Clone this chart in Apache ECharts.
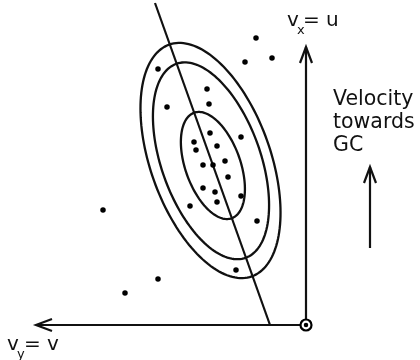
<!DOCTYPE html>
<html>
<head>
<meta charset="utf-8">
<script src="https://cdn.jsdelivr.net/npm/echarts@6/dist/echarts.min.js"></script>
<style>
  html, body { margin: 0; padding: 0; background: #fff; }
  #chart { width: 420px; height: 360px; }
</style>
</head>
<body>
<div id="chart"></div>
<script>
// Velocity-space sample: v (leftwards) and u (towards GC, upwards)
const starV = [50, 61, 34, 148, 99, 97, 139, 96, 65, 112, 89, 110, 81, 103, 93, 78, 103, 91, 65, 89, 116, 49, 203, 70, 148, 181];
const starU = [287, 263, 267, 256, 236, 221, 218, 192, 188, 183, 179, 175, 164, 160, 160, 148, 137, 133, 129, 123, 119, 104, 115, 55, 46, 32];

// Velocity ellipsoid contours: centre, semi-axes, tilt of the major axis (deg from u)
const ellipseCenterV = [95.5, 95, 93.1];
const ellipseCenterU = [164.5, 164.2, 159.5];
const ellipseMajor = [123, 103, 56];
const ellipseMinor = [60, 49.5, 27.5];
const vertexTilt = 19.65;

// Major-axis line (vertex deviation)
const vertexLineV = [36, 151];
const vertexLineU = [0, 322];

// Arrows: [fromV, fromU, toV, toU]
const arrowFromV = [0, 0, -64];
const arrowFromU = [0, 0, 77];
const arrowToV = [270, 0, -64];
const arrowToU = [0, 278, 158];

const INK = '#111';

const chart = echarts.init(document.getElementById('chart'), null, { renderer: 'canvas' });

const ellipseData = ellipseCenterV.map((v, i) => [v, ellipseCenterU[i], ellipseMajor[i], ellipseMinor[i]]);
const arrowData = arrowFromV.map((v, i) => [v, arrowFromU[i], arrowToV[i], arrowToU[i]]);

function renderEllipse(params, api) {
  const cv = api.value(0), cu = api.value(1), a = api.value(2), b = api.value(3);
  const th = vertexTilt * Math.PI / 180;
  const pts = [];
  const n = 160;
  for (let k = 0; k < n; k++) {
    const t = 2 * Math.PI * k / n;
    const v = cv + a * Math.cos(t) * Math.sin(th) - b * Math.sin(t) * Math.cos(th);
    const u = cu + a * Math.cos(t) * Math.cos(th) + b * Math.sin(t) * Math.sin(th);
    pts.push(api.coord([v, u]));
  }
  return {
    type: 'polygon',
    shape: { points: pts },
    style: { fill: 'none', stroke: INK, lineWidth: 2.3 }
  };
}

function renderArrow(params, api) {
  const p0 = api.coord([api.value(0), api.value(1)]);
  const p1 = api.coord([api.value(2), api.value(3)]);
  const dx = p1[0] - p0[0], dy = p1[1] - p0[1];
  const len = Math.sqrt(dx * dx + dy * dy);
  const ux = dx / len, uy = dy / len;
  const headLen = 16, headHalf = 6;
  const bx = p1[0] - ux * headLen, by = p1[1] - uy * headLen;
  const left = [bx - uy * headHalf, by + ux * headHalf];
  const right = [bx + uy * headHalf, by - ux * headHalf];
  return {
    type: 'group',
    children: [
      { type: 'line', shape: { x1: p0[0], y1: p0[1], x2: p1[0], y2: p1[1] },
        style: { stroke: INK, lineWidth: 2.2 } },
      { type: 'polyline', shape: { points: [left, p1, right] },
        style: { stroke: INK, lineWidth: 2.2, fill: 'none' } }
    ]
  };
}

const textStyle = { fill: '#111', fontFamily: 'DejaVu Sans' };

chart.setOption({
  animation: false,
  grid: { left: 0, top: 0, right: 0, bottom: 0 },
  xAxis: { type: 'value', inverse: true, min: -114, max: 306, show: false },
  yAxis: { type: 'value', min: -35, max: 325, show: false },
  series: [
    {
      type: 'custom', name: 'contours', clip: false,
      data: ellipseData, renderItem: renderEllipse, z: 2
    },
    {
      type: 'line', name: 'major axis',
      data: vertexLineV.map((v, i) => [v, vertexLineU[i]]),
      symbol: 'none', lineStyle: { color: INK, width: 2.2 }, z: 2
    },
    {
      type: 'custom', name: 'axes', clip: false,
      data: arrowData, renderItem: renderArrow, z: 3
    },
    {
      type: 'scatter', name: 'stars',
      data: starV.map((v, i) => [v, starU[i]]),
      symbolSize: 5.5, itemStyle: { color: '#000', opacity: 1 }, z: 4
    },
    {
      type: 'scatter', name: 'origin ring', data: [[0, 0]],
      symbol: 'circle', symbolSize: 11,
      itemStyle: { color: '#fff', borderColor: '#000', borderWidth: 2.2, opacity: 1 }, z: 5
    },
    {
      type: 'scatter', name: 'origin dot', data: [[0, 0]],
      symbol: 'circle', symbolSize: 4.5, itemStyle: { color: '#000', opacity: 1 }, z: 6
    }
  ],
  graphic: [
    { type: 'text', left: 287, top: 11, style: Object.assign({ text: 'v', fontSize: 20 }, textStyle) },
    { type: 'text', left: 297, top: 24, style: Object.assign({ text: 'x', fontSize: 13 }, textStyle) },
    { type: 'text', left: 303, top: 11, style: Object.assign({ text: '= u', fontSize: 20 }, textStyle) },
    { type: 'text', left: 7, top: 335, style: Object.assign({ text: 'v', fontSize: 20 }, textStyle) },
    { type: 'text', left: 17, top: 348, style: Object.assign({ text: 'y', fontSize: 13 }, textStyle) },
    { type: 'text', left: 24, top: 335, style: Object.assign({ text: '= v', fontSize: 20 }, textStyle) },
    { type: 'text', left: 333, top: 88, style: Object.assign({ text: 'Velocity\ntowards\nGC', fontSize: 20.5, lineHeight: 23 }, textStyle) }
  ]
});
</script>
</body>
</html>
